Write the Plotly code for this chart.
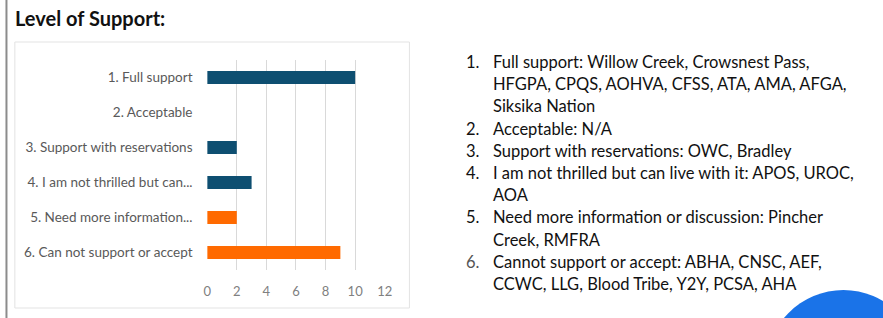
import plotly.graph_objects as go

categories = ["1. Full support", "2. Acceptable", "3. Support with reservations",
              "4. I am not thrilled but can...", "5. Need more information...",
              "6. Can not support or accept"]
counts = [10, 0, 2, 3, 2, 9]
bar_colors = ["#0E4F71", "#0E4F71", "#0E4F71", "#0E4F71", "#FF6A00", "#FF6A00"]
x_ticks = [0, 2, 4, 6, 8, 10, 12]

list_numbers = ["1.", "", "", "2.", "3.", "4.", "", "5.", "", "6.", ""]
list_lines = [
    "Full support: Willow Creek, Crowsnest Pass,",
    "HFGPA, CPQS, AOHVA, CFSS, ATA, AMA, AFGA,",
    "Siksika Nation",
    "Acceptable: N/A",
    "Support with reservations: OWC, Bradley",
    "I am not thrilled but can live with it: APOS, UROC,",
    "AOA",
    "Need more information or discussion: Pincher",
    "Creek, RMFRA",
    "Cannot support or accept: ABHA, CNSC, AEF,",
    "CCWC, LLG, Blood Tribe, Y2Y, PCSA, AHA",
]

W, H = 883, 318
FONT = "Lato, Carlito, Calibri, sans-serif"

fig = go.Figure()
fig.add_trace(go.Bar(
    x=counts, y=categories, orientation="h",
    marker=dict(color=bar_colors, line=dict(width=0)),
    width=0.37, hoverinfo="x+y", showlegend=False,
))

fig.update_layout(
    width=W, height=H,
    margin=dict(l=0, r=0, t=0, b=0),
    paper_bgcolor="white", plot_bgcolor="white",
    font=dict(family=FONT),
    xaxis=dict(
        domain=[206 / W, 386 / W], range=[0, 12], tickvals=x_ticks,
        showgrid=True, gridcolor="#D9D9D9", gridwidth=1,
        zeroline=False, showline=False,
        ticks="outside", ticklen=9, tickcolor="rgba(0,0,0,0)",
        tickfont=dict(size=13, color="#808080", family=FONT),
        fixedrange=True,
    ),
    yaxis=dict(
        domain=[(H - 270) / H, (H - 60) / H],
        categoryorder="array", categoryarray=categories[::-1],
        showgrid=False, zeroline=False, showline=False,
        ticks="outside", ticklen=11, tickcolor="rgba(0,0,0,0)",
        tickfont=dict(size=13.5, color="#595959", family=FONT),
        fixedrange=True,
    ),
    bargap=0.63,
)

shapes = [
    # left window border
    dict(type="line", xref="paper", yref="paper", x0=2.5 / W, x1=2.5 / W, y0=0, y1=1,
         line=dict(color="#8C8C8C", width=2)),
    # chart frame
    dict(type="rect", xref="paper", yref="paper",
         x0=11 / W, x1=411 / W, y0=(H - 308) / H, y1=(H - 42) / H,
         line=dict(color="#E3E3E3", width=1), fillcolor="rgba(0,0,0,0)", layer="below"),
    # blue circle decoration
    dict(type="circle", xref="paper", yref="paper",
         x0=772 / W, x1=930 / W, y0=(H - 448) / H, y1=(H - 290) / H,
         line=dict(width=0), fillcolor="#1A73E8"),
]

annotations = [
    dict(text="<b>Level of Support:</b>", xref="paper", yref="paper",
         x=9 / W, y=(H - 18) / H, xanchor="left", yanchor="middle", showarrow=False,
         font=dict(size=20, color="#111111", family=FONT)),
]

line_y0 = 62
line_step = 22.2
for i, (num, txt) in enumerate(zip(list_numbers, list_lines)):
    yy = (H - (line_y0 + i * line_step)) / H
    if num:
        annotations.append(dict(text=num, xref="paper", yref="paper", x=466 / W, y=yy,
                                xanchor="left", yanchor="middle", showarrow=False,
                                font=dict(size=16.5, color="#555555" if num == "6." else "#111111",
                                          family=FONT)))
    annotations.append(dict(text=txt, xref="paper", yref="paper", x=494 / W, y=yy,
                            xanchor="left", yanchor="middle", showarrow=False,
                            font=dict(size=16.5, color="#111111", family=FONT)))

fig.update_layout(shapes=shapes, annotations=annotations)
fig.write_html("out.html", config={"displayModeBar": False},
               post_script="document.body.style.margin='0';document.body.style.overflow='hidden';")
